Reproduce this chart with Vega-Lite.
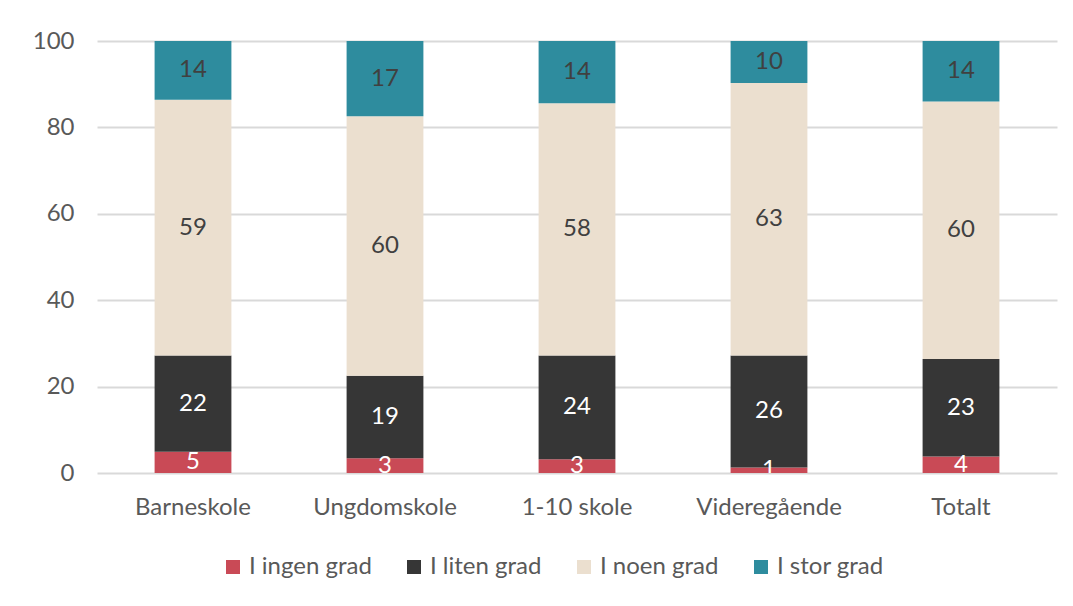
{
  "$schema": "https://vega.github.io/schema/vega-lite/v6.json",
  "width": 960,
  "height": 432,
  "autosize": {"type": "none"},
  "padding": {"left": 97, "top": 41, "right": 16, "bottom": 133},
  "background": "white",
  "config": {"font": "Lato", "view": {"stroke": null}},
  "data": {
    "values": [
      {"skole": "Barneskole", "grad": "I ingen grad", "value": 4.9},
      {"skole": "Barneskole", "grad": "I liten grad", "value": 22.3},
      {"skole": "Barneskole", "grad": "I noen grad", "value": 59.2},
      {"skole": "Barneskole", "grad": "I stor grad", "value": 13.6},
      {"skole": "Ungdomskole", "grad": "I ingen grad", "value": 3.4},
      {"skole": "Ungdomskole", "grad": "I liten grad", "value": 19.1},
      {"skole": "Ungdomskole", "grad": "I noen grad", "value": 60.1},
      {"skole": "Ungdomskole", "grad": "I stor grad", "value": 17.4},
      {"skole": "1-10 skole", "grad": "I ingen grad", "value": 3.2},
      {"skole": "1-10 skole", "grad": "I liten grad", "value": 24.0},
      {"skole": "1-10 skole", "grad": "I noen grad", "value": 58.4},
      {"skole": "1-10 skole", "grad": "I stor grad", "value": 14.4},
      {"skole": "Videregående", "grad": "I ingen grad", "value": 1.3},
      {"skole": "Videregående", "grad": "I liten grad", "value": 25.9},
      {"skole": "Videregående", "grad": "I noen grad", "value": 63.1},
      {"skole": "Videregående", "grad": "I stor grad", "value": 9.7},
      {"skole": "Totalt", "grad": "I ingen grad", "value": 3.8},
      {"skole": "Totalt", "grad": "I liten grad", "value": 22.6},
      {"skole": "Totalt", "grad": "I noen grad", "value": 59.6},
      {"skole": "Totalt", "grad": "I stor grad", "value": 14.0}
    ]
  },
  "transform": [
    {"stack": "value", "groupby": ["skole"], "sort": [{"field": "grad", "order": "ascending"}], "as": ["v0", "v1"]}
  ],
  "encoding": {
    "x": {
      "field": "skole",
      "type": "nominal",
      "sort": null,
      "title": null,
      "scale": {"paddingInner": 0.6, "paddingOuter": 0.3},
      "axis": {
        "domain": false,
        "ticks": false,
        "labelAngle": 0,
        "labelFontSize": 24,
        "labelColor": "#595959",
        "labelPadding": 22
      }
    }
  },
  "layer": [
    {
      "mark": {"type": "bar"},
      "encoding": {
        "y": {
          "field": "v0",
          "type": "quantitative",
          "title": null,
          "scale": {"domain": [0, 100], "nice": false},
          "axis": {
            "values": [0, 20, 40, 60, 80, 100],
            "domain": false,
            "ticks": false,
            "labelFontSize": 24,
            "labelColor": "#595959",
            "labelPadding": 23,
            "gridColor": "#D9D9D9",
            "gridWidth": 2
          }
        },
        "y2": {"field": "v1"},
        "color": {
          "field": "grad",
          "type": "nominal",
          "scale": {
            "domain": ["I ingen grad", "I liten grad", "I noen grad", "I stor grad"],
            "range": ["#C94A56", "#363636", "#EBDFCF", "#2E8C9E"]
          },
          "legend": {
            "orient": "none",
            "legendX": 124,
            "legendY": 514,
            "direction": "horizontal",
            "title": null,
            "symbolType": "square",
            "symbolSize": 196,
            "symbolStrokeWidth": 0,
            "labelFontSize": 24,
            "labelColor": "#595959",
            "labelOffset": 4,
            "columnPadding": 30
          }
        }
      }
    },
    {
      "transform": [{"fold": ["v0", "v1"], "as": ["k", "sv"]}],
      "mark": {"type": "text", "fontSize": 24, "clip": true, "baseline": "middle"},
      "encoding": {
        "y": {"field": "sv", "aggregate": "mean", "type": "quantitative", "title": null},
        "text": {"field": "value", "aggregate": "max", "type": "quantitative", "format": ".0f"},
        "detail": {"field": "grad"},
        "color": {
          "field": "grad",
          "type": "nominal",
          "scale": {
            "domain": ["I ingen grad", "I liten grad", "I noen grad", "I stor grad"],
            "range": ["#FFFFFF", "#FFFFFF", "#404040", "#404040"]
          },
          "legend": null
        }
      }
    }
  ],
  "resolve": {"scale": {"color": "independent"}}
}
